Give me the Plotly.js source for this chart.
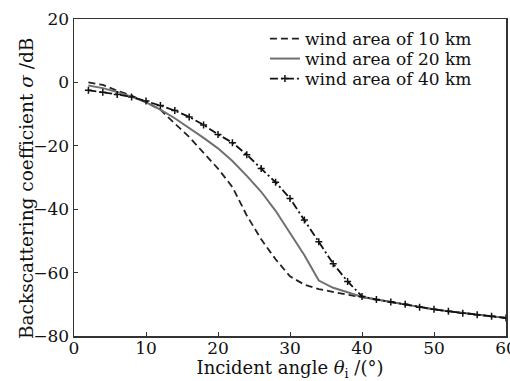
<!DOCTYPE html>
<html>
<head>
<meta charset="utf-8">
<script src="https://cdn.plot.ly/plotly-3.0.1.min.js"></script>
<style>html,body{margin:0;padding:0;background:#fff;}#chart{width:510px;height:381px;}</style>
</head>
<body>
<div id="chart"></div>
<script>
var angle = [2,4,6,8,10,12,14,16,18,20,22,24,26,28,30,32,34,36,38,40,42,44,46,48,50,52,54,56,58,60];
var wind10 = [0,-0.8,-2.6,-4.2,-6.2,-8.6,-13.0,-17.2,-22.2,-27.2,-33.0,-42.0,-49.5,-55.8,-61.2,-63.8,-65.2,-66.2,-67.0,-67.7,-68.5,-69.3,-70.0,-70.9,-71.6,-72.2,-72.8,-73.3,-73.8,-74.3];
var wind20 = [-1.0,-1.8,-3.0,-4.5,-6.3,-8.6,-11.3,-14.3,-17.5,-20.8,-24.8,-29.5,-34.5,-40.5,-47.5,-54.5,-62.5,-64.8,-66.2,-67.7,-68.5,-69.3,-70.0,-70.9,-71.6,-72.2,-72.8,-73.3,-73.8,-74.3];
var wind40 = [-2.5,-3.1,-3.8,-4.6,-5.9,-7.3,-8.9,-10.9,-13.4,-16.4,-19.0,-22.8,-27.2,-31.5,-36.6,-43.4,-50.3,-57.2,-62.8,-67.5,-68.5,-69.3,-70.0,-70.9,-71.6,-72.2,-72.8,-73.3,-73.8,-74.3];
var seriesNames = ['wind area of 10 km','wind area of 20 km','wind area of 40 km'];
var xTicks = [0,10,20,30,40,50,60];
var yTicks = [20,0,-20,-40,-60,-80];
var xTitle = 'Incident angle <i>θ</i><sub>i</sub> /(°)';
var yTitle = 'Backscattering coefficient <i>σ</i> /dB';

var serif = 'DejaVu Serif, Liberation Serif, serif';
var ink = '#111';
var traces = [
  {x: angle, y: wind10, name: seriesNames[0], mode: 'lines', type: 'scatter', legend: 'legend',
   line: {color: '#222', width: 1.8, dash: '7px,4px'}},
  {x: angle, y: wind20, name: seriesNames[1], mode: 'lines', type: 'scatter', legend: 'legend2',
   line: {color: '#707070', width: 2}},
  {x: angle, y: wind40, name: seriesNames[2], mode: 'lines+markers', type: 'scatter', legend: 'legend3',
   line: {color: '#111', width: 1.8, dash: '8px,3px,2px,3px'},
   marker: {symbol: 'cross-thin', size: 5, color: '#111', line: {color: '#111', width: 1.5}}}
];
function leg(y) {
  return {x: 0.442, y: y, xanchor: 'left', yanchor: 'top', bgcolor: 'rgba(0,0,0,0)',
          font: {family: serif, size: 17, color: ink}};
}
var layout = {
  width: 510, height: 381,
  margin: {l: 74, r: 4, t: 19, b: 45},
  paper_bgcolor: '#fff', plot_bgcolor: '#fff',
  font: {family: serif, size: 17, color: ink},
  showlegend: true,
  legend: leg(0.9937), legend2: leg(0.9306), legend3: leg(0.8675),
  xaxis: {range: [0, 60], tickvals: xTicks, ticktext: xTicks.map(String), ticks: 'inside', ticklen: 4,
          tickcolor: '#333', showline: true, linecolor: '#333', linewidth: 1.5, mirror: true,
          showgrid: false, zeroline: false, tickfont: {family: serif, size: 17, color: ink},
          ticklabeloverflow: 'allow', ticklabelstandoff: -4,
          title: {text: xTitle, font: {family: serif, size: 18, color: ink}, standoff: 8}},
  yaxis: {range: [-80, 20], tickvals: yTicks, ticktext: yTicks.map(function(v){return v < 0 ? '\u2212' + Math.abs(v) : String(v);}),
          ticks: 'inside', ticklen: 4, tickcolor: '#333', showline: true, linecolor: '#333', linewidth: 1.5, mirror: true,
          showgrid: false, zeroline: false, tickfont: {family: serif, size: 17, color: ink},
          ticklabeloverflow: 'allow'},
  annotations: [
    {text: yTitle, xref: 'paper', yref: 'paper', x: -48/432, y: (336-189)/317,
     xanchor: 'center', yanchor: 'middle', textangle: -90, showarrow: false,
     font: {family: serif, size: 18.5, color: ink}}
  ]
};
Plotly.newPlot('chart', traces, layout, {displayModeBar: false, staticPlot: true});
</script>
</body>
</html>
